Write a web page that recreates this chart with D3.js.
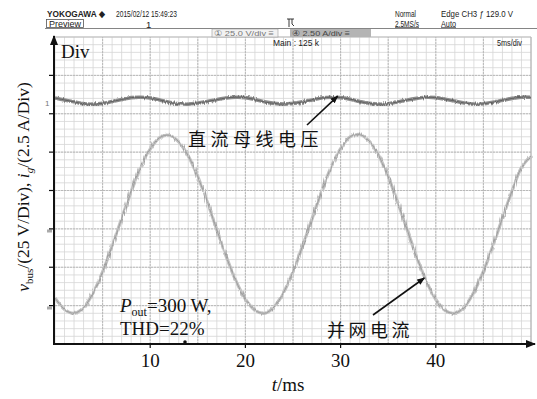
<!DOCTYPE html>
<html>
<head>
<meta charset="utf-8">
<script src="https://cdn.jsdelivr.net/npm/d3@7"></script>
<style>
  body { margin: 0; background: #fff; }
  svg { display: block; }
  .hdr { font-family: "Liberation Sans", "DejaVu Sans", sans-serif; font-size: 8.5px; fill: #222; }
  .serif { font-family: "Liberation Serif", "DejaVu Serif", serif; fill: #111; }
  .cjk { font-family: "Noto Sans CJK SC", sans-serif; fill: #111; }
</style>
</head>
<body>
<svg id="chart" width="537" height="399"></svg>
<script>
const timeMs = [0, 1, 2, 3, 4, 5, 6, 7, 8, 9, 10, 11, 12, 13, 14, 15, 16, 17, 18, 19, 20,
  21, 22, 23, 24, 25, 26, 27, 28, 29, 30, 31, 32, 33, 34, 35, 36, 37, 38, 39, 40,
  41, 42, 43, 44, 45, 46, 47, 48, 49, 50];

// DC bus voltage trace, in screen divisions above the bottom edge
const busDiv = [6.41, 6.36, 6.31, 6.26, 6.25, 6.27, 6.32, 6.37, 6.42, 6.43, 6.41,
  6.36, 6.30, 6.26, 6.25, 6.28, 6.32, 6.37, 6.41, 6.43, 6.42,
  6.37, 6.31, 6.27, 6.25, 6.27, 6.31, 6.36, 6.41, 6.43, 6.42,
  6.38, 6.32, 6.27, 6.25, 6.26, 6.31, 6.36, 6.40, 6.43, 6.42,
  6.38, 6.33, 6.28, 6.25, 6.26, 6.30, 6.35, 6.40, 6.43, 6.43];

// grid current trace, in screen divisions above the bottom edge
const currentDiv = [1.20, 0.90, 0.80, 0.95, 1.33, 1.88, 2.55, 3.27, 3.97, 4.60, 5.08,
  5.38, 5.44, 5.27, 4.90, 4.36, 3.70, 2.98, 2.27, 1.65, 1.17,
  0.88, 0.80, 0.96, 1.34, 1.88, 2.55, 3.26, 3.97, 4.61, 5.09,
  5.40, 5.46, 5.29, 4.91, 4.36, 3.69, 2.97, 2.26, 1.64, 1.16,
  0.87, 0.80, 0.97, 1.35, 1.89, 2.56, 3.28, 3.98, 4.60, 4.90];

const xTicks = [10, 20, 30, 40];
const yTicks = [1, 2, 3, 4, 5, 6, 7];

const svg = d3.select("#chart");

const x = d3.scaleLinear().domain([0, 50]).range([55, 531]);
const y = d3.scaleLinear().domain([0, 8]).range([344, 37]);

// noise filter to give the traces a sampled, fuzzy look
const defs = svg.append("defs");
const f = defs.append("filter").attr("id", "fuzz")
  .attr("x", "-5%").attr("y", "-20%").attr("width", "110%").attr("height", "140%");
f.append("feTurbulence").attr("type", "fractalNoise")
  .attr("baseFrequency", "0.9 0.08").attr("numOctaves", 1).attr("seed", 3).attr("result", "n");
f.append("feDisplacementMap").attr("in", "SourceGraphic").attr("in2", "n")
  .attr("scale", 4).attr("xChannelSelector", "R").attr("yChannelSelector", "G");

defs.append("marker").attr("id", "arr")
  .attr("viewBox", "0 0 10 10").attr("refX", 9).attr("refY", 5)
  .attr("markerWidth", 5).attr("markerHeight", 5).attr("orient", "auto")
  .append("path").attr("d", "M0,1 L10,5 L0,9 Z").attr("fill", "#111");

// ---- grid ----
const grid = svg.append("g");
const minorX = d3.range(0, 50.01, 1);
const minorY = d3.range(0, 8.01, 0.2);
grid.selectAll(".mx").data(minorX).enter().append("line")
  .attr("x1", d => x(d)).attr("x2", d => x(d))
  .attr("y1", y(0)).attr("y2", y(8))
  .attr("stroke", "#d6d6d6").attr("stroke-width", 0.8);
grid.selectAll(".my").data(minorY).enter().append("line")
  .attr("x1", x(0)).attr("x2", x(50))
  .attr("y1", d => y(d)).attr("y2", d => y(d))
  .attr("stroke", "#d6d6d6").attr("stroke-width", 0.8);
grid.selectAll(".Mx").data(d3.range(5, 50, 5)).enter().append("line")
  .attr("x1", d => x(d)).attr("x2", d => x(d))
  .attr("y1", y(0)).attr("y2", y(8))
  .attr("stroke", "#b4b4b4").attr("stroke-width", 0.9).attr("stroke-dasharray", "2,1");
grid.selectAll(".My").data(d3.range(1, 8, 1)).enter().append("line")
  .attr("x1", x(0)).attr("x2", x(50))
  .attr("y1", d => y(d)).attr("y2", d => y(d))
  .attr("stroke", "#b4b4b4").attr("stroke-width", 0.9).attr("stroke-dasharray", "2,1");
grid.append("line").attr("x1", x(50)).attr("x2", x(50)).attr("y1", y(0)).attr("y2", y(8))
  .attr("stroke", "#aaa").attr("stroke-width", 1);
grid.append("line").attr("x1", x(0)).attr("x2", x(50)).attr("y1", y(8)).attr("y2", y(8))
  .attr("stroke", "#bbb").attr("stroke-width", 1);

// ---- header of the scope screen ----
function hdr(tx, ty, str, len, size) {
  const t = svg.append("text").attr("class", "hdr").attr("x", tx).attr("y", ty).text(str);
  if (len) t.attr("textLength", len).attr("lengthAdjust", "spacingAndGlyphs");
  if (size) t.style("font-size", size + "px");
  return t;
}
svg.append("line").attr("x1", 45).attr("x2", 537).attr("y1", 28.5).attr("y2", 28.5)
  .attr("stroke", "#666").attr("stroke-width", 0.8);
hdr(47, 17, "YOKOGAWA \u25C6", 58, 9.5).style("font-weight", "bold");
hdr(116, 17, "2015/02/12 15:49:23", 61, 9.5);
svg.append("rect").attr("x", 46.5).attr("y", 19.5).attr("width", 37).attr("height", 8)
  .attr("fill", "none").attr("stroke", "#555").attr("stroke-width", 0.8);
hdr(49, 26.5, "Preview", 32, 8.5);
hdr(146, 27.5, "1", null, 9.5);
svg.append("path").attr("d", "M289,19 L289,27 M287,19 L294,19 M292,19 L292,24 L294,26")
  .attr("fill", "none").attr("stroke", "#222").attr("stroke-width", 0.9);
hdr(395, 17, "Normal", 21, 9.5);
hdr(395, 26.5, "2.5MS/s", 24, 9.5);
svg.append("line").attr("x1", 395).attr("x2", 419).attr("y1", 27.5).attr("y2", 27.5)
  .attr("stroke", "#222").attr("stroke-width", 0.6);
hdr(441, 17, "Edge CH3 \u0192 129.0 V", 72, 9.5);
hdr(441, 26.5, "Auto", 15, 9.5);
svg.append("line").attr("x1", 441).attr("x2", 456).attr("y1", 27.5).attr("y2", 27.5)
  .attr("stroke", "#222").attr("stroke-width", 0.6);

svg.append("rect").attr("x", 212).attr("y", 29).attr("width", 66).attr("height", 8)
  .attr("fill", "#f2f2f2").attr("stroke", "#999").attr("stroke-width", 0.6);
hdr(214, 36, "\u2460 25.0 V/div \u2261", 60, 8).style("fill", "#777");
svg.append("rect").attr("x", 290).attr("y", 29).attr("width", 81).attr("height", 8)
  .attr("fill", "#b4b4b4");
hdr(292, 36, "\u2463 2.50 A/div \u2261", 58, 8).style("fill", "#444");

hdr(273, 46, "Main : 125 k", 46, 9.5);
hdr(497, 46, "5ms/div", 25, 9.5);

// ---- traces ----
const line = d3.line().x(d => x(d[0])).y(d => y(d[1])).curve(d3.curveCatmullRom);
const busPts = timeMs.map((t, i) => [t, busDiv[i]]);
const curPts = timeMs.map((t, i) => [t, currentDiv[i]]);

const tr = svg.append("g");
tr.append("path").datum(curPts).attr("d", line)
  .attr("fill", "none").attr("stroke", "#c2c2c2").attr("stroke-width", 3.2)
  .attr("filter", "url(#fuzz)");
tr.append("path").datum(curPts).attr("d", line)
  .attr("fill", "none").attr("stroke", "#949494").attr("stroke-width", 0.8)
  .attr("filter", "url(#fuzz)");
tr.append("path").datum(busPts).attr("d", line)
  .attr("fill", "none").attr("stroke", "#8e8e8e").attr("stroke-width", 3.6)
  .attr("filter", "url(#fuzz)");
tr.append("path").datum(busPts).attr("d", line)
  .attr("fill", "none").attr("stroke", "#5a5a5a").attr("stroke-width", 0.9)
  .attr("filter", "url(#fuzz)");

// channel level markers at the left edge
svg.append("text").attr("class", "hdr").attr("x", 45).attr("y", 106)
  .style("fill", "#777").style("font-size", "8px").text("1");
[[231], [308]].forEach(d => {
  svg.append("rect").attr("x", 47).attr("y", d[0] - 1.5).attr("width", 5).attr("height", 3)
    .attr("fill", "#aaa");
});

// ---- axes ----
svg.append("line").attr("x1", 54).attr("x2", 54).attr("y1", 345).attr("y2", 36)
  .attr("stroke", "#111").attr("stroke-width", 2).attr("marker-end", "url(#arr)");
svg.append("line").attr("x1", 53).attr("x2", 535).attr("y1", 344).attr("y2", 344)
  .attr("stroke", "#111").attr("stroke-width", 2).attr("marker-end", "url(#arr)");

svg.selectAll(".yt").data(yTicks).enter().append("line")
  .attr("x1", 49).attr("x2", 54).attr("y1", d => y(d)).attr("y2", d => y(d))
  .attr("stroke", "#111").attr("stroke-width", 1.2);
svg.selectAll(".xt").data(xTicks).enter().append("line")
  .attr("x1", d => x(d)).attr("x2", d => x(d)).attr("y1", 344).attr("y2", 348)
  .attr("stroke", "#111").attr("stroke-width", 1.2);
svg.selectAll(".xl").data(xTicks).enter().append("text")
  .attr("class", "serif").attr("x", d => x(d)).attr("y", 367)
  .attr("text-anchor", "middle").style("font-size", "19px").text(d => d);

// trigger point dot on the time axis
svg.append("circle").attr("cx", 185).attr("cy", 342).attr("r", 1.8).attr("fill", "#111");

// axis titles
const xl = svg.append("text").attr("class", "serif").attr("x", 288).attr("y", 391)
  .attr("text-anchor", "middle").style("font-size", "19px");
xl.append("tspan").style("font-style", "italic").text("t");
xl.append("tspan").text("/ms");

const yl = svg.append("text").attr("class", "serif")
  .attr("transform", "translate(29,187) rotate(-90)")
  .attr("text-anchor", "middle").style("font-size", "17.5px");
yl.append("tspan").style("font-style", "italic").text("v");
yl.append("tspan").attr("dy", 4).style("font-size", "11px").text("bus");
yl.append("tspan").attr("dy", -4).text("/(25 V/Div), ");
yl.append("tspan").style("font-style", "italic").text("i");
yl.append("tspan").attr("dy", 4).style("font-size", "11px").style("font-style", "italic").text("g");
yl.append("tspan").attr("dy", -4).text("/(2.5 A/Div)");

svg.append("text").attr("class", "serif").attr("x", 61).attr("y", 58)
  .style("font-size", "19px").text("Div");

// ---- annotations ----
svg.append("text").attr("class", "cjk").attr("x", 188).attr("y", 146)
  .style("font-size", "18px").style("letter-spacing", "4.5px").text("直流母线电压");
svg.append("line").attr("x1", 307).attr("y1", 125).attr("x2", x(29.7)).attr("y2", y(6.46))
  .attr("stroke", "#111").attr("stroke-width", 1.6).attr("marker-end", "url(#arr)");

svg.append("text").attr("class", "cjk").attr("x", 327).attr("y", 337)
  .style("font-size", "18px").style("letter-spacing", "3.5px").text("并网电流");
svg.append("line").attr("x1", 373).attr("y1", 315).attr("x2", x(38.8)).attr("y2", y(1.72))
  .attr("stroke", "#111").attr("stroke-width", 1.6).attr("marker-end", "url(#arr)");

const p = svg.append("text").attr("class", "serif").attr("x", 120).attr("y", 312)
  .style("font-size", "19px");
p.append("tspan").style("font-style", "italic").text("P");
p.append("tspan").attr("dy", 4).style("font-size", "12px").text("out");
p.append("tspan").attr("dy", -4).text("=300 W,");
svg.append("text").attr("class", "serif").attr("x", 120).attr("y", 335)
  .style("font-size", "19px").text("THD=22%");
</script>
</body>
</html>
